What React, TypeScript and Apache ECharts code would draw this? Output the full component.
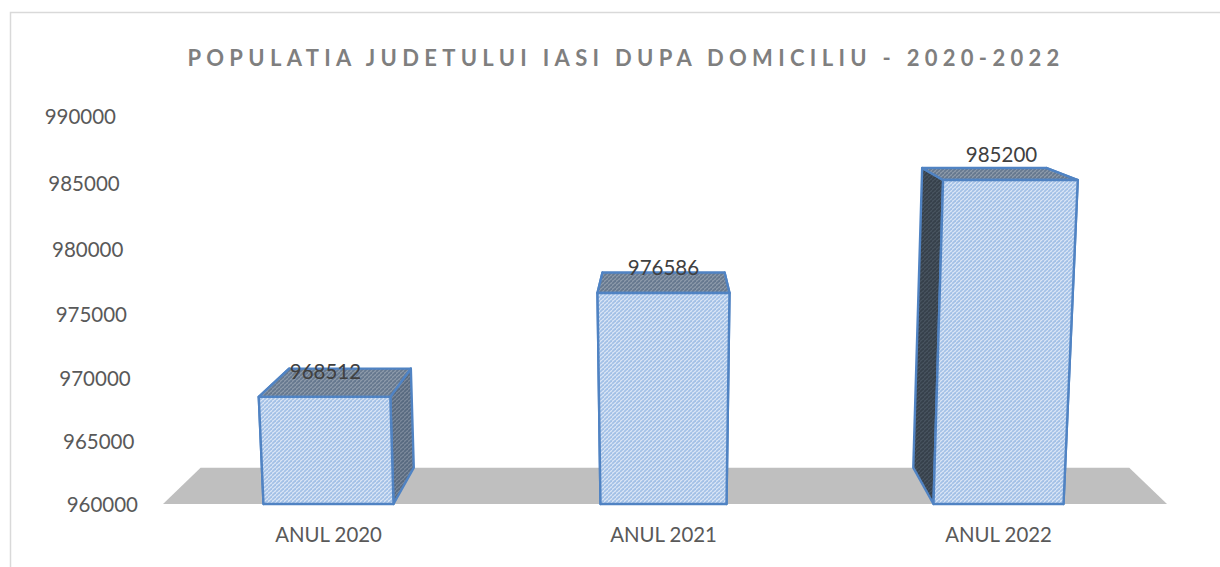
import React, { useEffect, useRef } from "react";
import * as echarts from "echarts";

const categories = ["ANUL 2020", "ANUL 2021", "ANUL 2022"];
const values = [968512, 976586, 985200];
const axisMin = 960000;
const axisMax = 990000;
const axisStep = 5000;
const titleText = "POPULATIA JUDETULUI IASI DUPA DOMICILIU - 2020-2022";

const FONT = "Lato, 'Open Sans', sans-serif";
const GRID_TOP = 116;
const GRID_BOTTOM_Y = 504;
const VP = { x: 664, y: 20 };
const DEPTH = 0.075;
const BAR_HALF = 65;

function hatch(bg: string, stripe: string): any {
  const c = document.createElement("canvas");
  c.width = 4;
  c.height = 4;
  const g = c.getContext("2d")!;
  g.fillStyle = bg;
  g.fillRect(0, 0, 4, 4);
  g.strokeStyle = stripe;
  g.lineWidth = 1.8;
  for (const o of [-4, 0, 4]) {
    g.beginPath();
    g.moveTo(o, 4);
    g.lineTo(o + 4, 0);
    g.stroke();
  }
  return { image: c.toDataURL(), repeat: "repeat", imageWidth: 4, imageHeight: 4 };
}

// Small perspective bend of the reference's 3D value axis
const bend = (t: number) => 14.4 * t * (1 - t);
const warpY = (y: number) => {
  const t = (GRID_BOTTOM_Y - y) / (GRID_BOTTOM_Y - GRID_TOP);
  return y + bend(t);
};
const back = (p: number[]) => [p[0] + (VP.x - p[0]) * DEPTH, p[1] + (VP.y - p[1]) * DEPTH];

const richKey = (v: number) => "v" + v;
const tickValues: number[] = [];
for (let v = axisMin; v <= axisMax; v += axisStep) tickValues.push(v);
const rich: any = {};
tickValues.forEach((v) => {
  const t = (v - axisMin) / (axisMax - axisMin);
  rich[richKey(v)] = {
    fontFamily: FONT,
    fontSize: 20.5,
    color: "#595959",
    padding: [2 * bend(t), 22 * t, 0, 0],
  };
});

export default function App() {
  const ref = useRef<HTMLDivElement>(null);
  useEffect(() => {
    const chart = echarts.init(ref.current!, undefined, { renderer: "svg" });
    const frontFill = hatch("#dbe7f6", "#a3c1e6");
    const topFill = hatch("#8f9bab", "#66788f");
    const rightFill = hatch("#7d8b9c", "#586a80");
    const leftFill = hatch("#4a5561", "#36404b");
    const edge = { stroke: "#5083c3", lineWidth: 2.4, lineJoin: "round" };

    chart.setOption({
      animation: false,
      backgroundColor: "#ffffff",
      title: {
        text: titleText,
        left: 621,
        top: 41,
        textAlign: "center",
        textStyle: { fontFamily: FONT, fontSize: 22, fontWeight: "bold", color: "#7f7f7f" },
      },
      graphic: [
        {
          type: "rect",
          shape: { x: 10.5, y: 12.5, width: 1230, height: 570 },
          style: { fill: "none", stroke: "#d9d9d9", lineWidth: 1.5 },
          silent: true,
        },
      ],
      grid: { left: 161, right: 54, top: GRID_TOP, bottom: 567 - GRID_BOTTOM_Y },
      xAxis: {
        type: "category",
        data: categories,
        axisLine: { show: false },
        axisTick: { show: false },
        axisLabel: { fontFamily: FONT, fontSize: 20.4, color: "#595959", margin: 20 },
      },
      yAxis: {
        type: "value",
        min: axisMin,
        max: axisMax,
        interval: axisStep,
        splitLine: { show: false },
        axisLine: { show: false },
        axisTick: { show: false },
        axisLabel: {
          margin: 23,
          formatter: (v: number) => `{${richKey(v)}|${v}}`,
          rich,
        },
      },
      series: [
        {
          type: "custom",
          z: 1,
          silent: true,
          data: [[0, axisMin]],
          renderItem: (_p: any, api: any) => {
            const base = api.coord([0, axisMin])[1];
            const l = _p.coordSys.x + 2;
            const r = _p.coordSys.x + _p.coordSys.width + 1;
            const a = [l, base];
            const b = [r, base];
            return {
              type: "polygon",
              shape: { points: [a, b, back(b), back(a)] },
              style: { fill: "#bfbfbf" },
            };
          },
        },
        {
          type: "custom",
          z: 2,
          silent: true,
          data: values.map((v, i) => [i, v]),
          renderItem: (_p: any, api: any) => {
            const idx = api.value(0);
            const val = api.value(1);
            const [cx, base] = api.coord([idx, axisMin]);
            const top = warpY(api.coord([idx, val])[1]);
            const h = base - top;
            const s = 1 + h * 0.00011;
            const half = Math.abs(cx - VP.x) < 20 ? BAR_HALF - 2 : BAR_HALF;
            const topHalf = Math.abs(cx - VP.x) < 20 ? BAR_HALF - 0.5 : BAR_HALF;
            const px = (x: number) => VP.x + (x - VP.x) * s;
            const bl = [cx - half, base];
            const br = [cx + half, base];
            const tl = [px(cx - topHalf), top];
            const tr = [px(cx + topHalf), top];
            const poly = (pts: number[][], fill: any) => ({
              type: "polygon",
              shape: { points: pts },
              style: { fill, ...edge },
            });
            return {
              type: "group",
              children: [
                poly([tl, back(tl), back(bl), bl], leftFill),
                poly([tr, back(tr), back(br), br], rightFill),
                poly([tl, tr, back(tr), back(tl)], topFill),
                poly([bl, br, tr, tl], frontFill),
                {
                  type: "text",
                  style: {
                    text: String(val),
                    x: cx + (cx - VP.x) * 0.009,
                    y: top - 26,
                    align: "center",
                    verticalAlign: "middle",
                    fontFamily: FONT,
                    fontSize: 20.5,
                    fill: "#404040",
                  },
                },
              ],
            };
          },
        },
      ],
    });

    ref.current!.querySelectorAll("text").forEach((t) => {
      if (t.textContent === titleText) (t as any).style.letterSpacing = "5.3px";
    });
    return () => chart.dispose();
  }, []);
  return (
    <div
      ref={ref}
      style={{ position: "absolute", left: 0, top: 0, width: 1220, height: 567, overflow: "hidden" }}
    />
  );
}
